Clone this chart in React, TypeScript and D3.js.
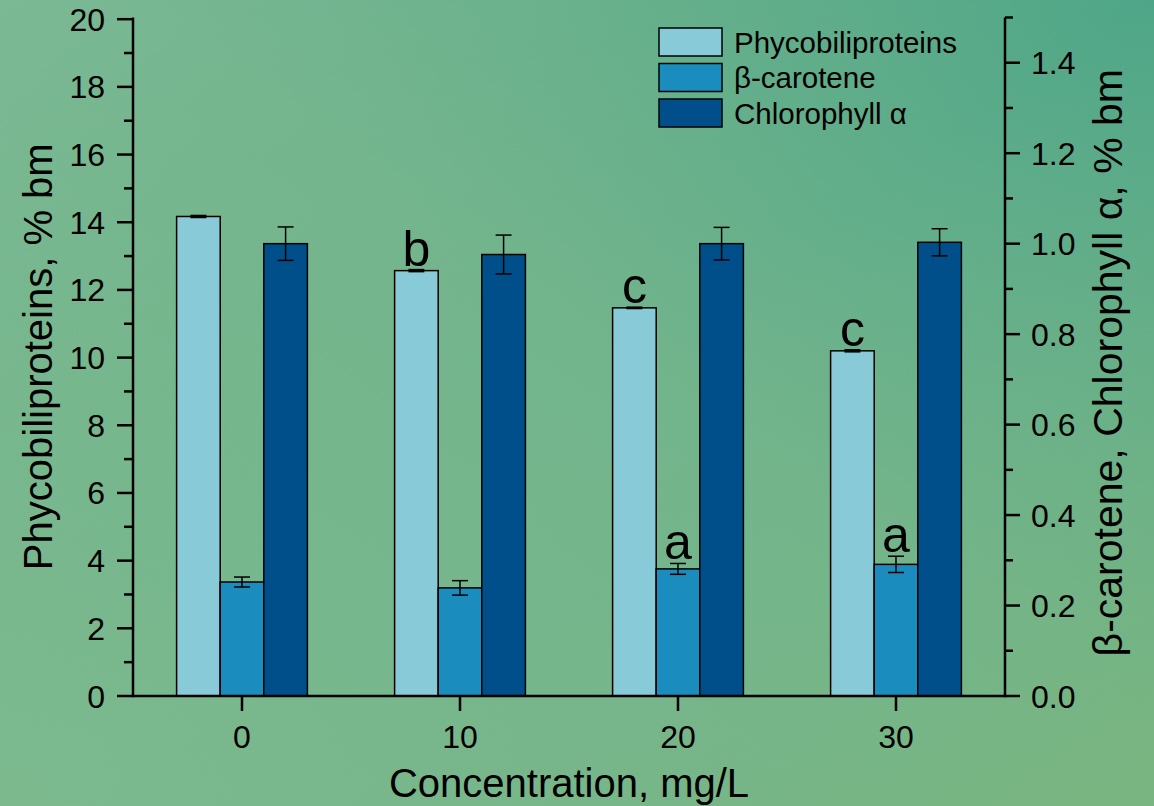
import React from "react";
import * as d3 from "d3";

const categories = ["0", "10", "20", "30"];
const phyco = [14.17, 12.57, 11.47, 10.2];
const phycoErr = [0.03, 0.03, 0.02, 0.03];
const beta = [0.252, 0.239, 0.281, 0.291];
const betaErr = [0.011, 0.016, 0.012, 0.018];
const chl = [1.0, 0.976, 1.0, 1.003];
const chlErr = [0.037, 0.043, 0.036, 0.03];
const phycoLetters = ["", "b", "c", "c"];
const betaLetters = ["", "", "a", "a"];
const leftTicks = [0, 2, 4, 6, 8, 10, 12, 14, 16, 18, 20];
const leftMinor = d3.range(1, 20, 2);
const rightTicks = [0, 0.2, 0.4, 0.6, 0.8, 1.0, 1.2, 1.4];
const rightMinor = [0.1, 0.3, 0.5, 0.7, 0.9, 1.1, 1.3, 1.5];
const seriesNames = ["Phycobiliproteins", "β-carotene", "Chlorophyll α"];
const colors = ["#88cad8", "#1a8cbe", "#004f8a"];

const W = 1154, H = 806;
const L = 133, R = 1005, T = 17.5, B = 696;
const font = "'Liberation Sans', Arial, sans-serif";

export default function App() {
  const x = d3.scaleBand<string>().domain(categories).range([L, R]).padding(0);
  const yL = d3.scaleLinear().domain([0, 20.05]).range([B, T]);
  const yR = d3.scaleLinear().domain([0, 1.5]).range([B, T]);
  const bw = x.bandwidth() * 0.2;

  const series = [
    { vals: phyco, errs: phycoErr, scale: yL, letters: phycoLetters },
    { vals: beta, errs: betaErr, scale: yR, letters: betaLetters },
    { vals: chl, errs: chlErr, scale: yR, letters: null as string[] | null },
  ];

  return (
    <svg width={W} height={H} style={{ position: "absolute", left: 0, top: 0 }} fontFamily={font}>
      <defs>
        <linearGradient id="bg" x1="1" y1="0" x2="0" y2="1">
          <stop offset="0" stopColor="#4ea688" />
          <stop offset="0.45" stopColor="#72b48c" />
          <stop offset="1" stopColor="#7cba8e" />
        </linearGradient>
        <linearGradient id="bg2" x1="0" y1="0" x2="1" y2="1">
          <stop offset="0" stopColor="#7ebb98" stopOpacity="0.6" />
          <stop offset="0.5" stopColor="#74b48a" stopOpacity="0" />
          <stop offset="1" stopColor="#7bb57a" stopOpacity="0.7" />
        </linearGradient>
      </defs>
      <rect width={W} height={H} fill="url(#bg)" />
      <rect width={W} height={H} fill="url(#bg2)" />

      {series.map((s, si) =>
        categories.map((c, i) => {
          const cx = (x(c) as number) + x.bandwidth() / 2;
          const x0 = cx + (si - 1.5) * bw;
          const yv = s.scale(s.vals[i]);
          const yt = s.scale(s.vals[i] + s.errs[i]);
          const yb = s.scale(s.vals[i] - s.errs[i]);
          const mx = x0 + bw / 2;
          return (
            <g key={`${si}-${i}`}>
              <rect x={x0} y={yv} width={bw} height={B - yv} fill={colors[si]} stroke="#000" strokeWidth={1.5} />
              <line x1={mx} x2={mx} y1={yt} y2={yb} stroke="#000" strokeWidth={1.5} />
              <line x1={mx - 8} x2={mx + 8} y1={yt} y2={yt} stroke="#000" strokeWidth={1.5} />
              <line x1={mx - 8} x2={mx + 8} y1={yb} y2={yb} stroke="#000" strokeWidth={1.5} />
              {s.letters && s.letters[i] ? (
                <text x={mx} y={yt - 4} textAnchor="middle" fontSize={50} fill="#000">{s.letters[i]}</text>
              ) : null}
            </g>
          );
        })
      )}

      {/* axes */}
      <g stroke="#000" strokeWidth={2.5} fill="none">
        <line x1={L} x2={L} y1={T} y2={B + 1.25} />
        <line x1={R} x2={R} y1={T} y2={B + 1.25} />
        <line x1={L} x2={R} y1={B} y2={B} />
        {leftTicks.map((t) => (
          <line key={`lt${t}`} x1={L - 16} x2={L} y1={yL(t)} y2={yL(t)} />
        ))}
        {leftMinor.map((t) => (
          <line key={`lm${t}`} x1={L - 9} x2={L} y1={yL(t)} y2={yL(t)} />
        ))}
        {rightTicks.map((t) => (
          <line key={`rt${t}`} x1={R} x2={R + 15} y1={yR(t)} y2={yR(t)} />
        ))}
        {rightMinor.map((t) => (
          <line key={`rm${t}`} x1={R} x2={R + 8} y1={yR(t)} y2={yR(t)} />
        ))}
        {categories.map((c) => {
          const cx = (x(c) as number) + x.bandwidth() / 2;
          return <line key={`xt${c}`} x1={cx} x2={cx} y1={B} y2={B + 15} />;
        })}
      </g>

      <g fontSize={32} fill="#000">
        {leftTicks.map((t) => (
          <text key={`ll${t}`} x={L - 28} y={yL(t)} dy="0.36em" textAnchor="end">{t}</text>
        ))}
        {rightTicks.map((t) => (
          <text key={`rl${t}`} x={R + 26} y={yR(t)} dy="0.36em" textAnchor="start">{t.toFixed(1)}</text>
        ))}
        {categories.map((c) => {
          const cx = (x(c) as number) + x.bandwidth() / 2;
          return <text key={`xl${c}`} x={cx} y={B + 52} textAnchor="middle">{c}</text>;
        })}
      </g>

      <text x={(L + R) / 2} y={797} textAnchor="middle" fontSize={40} fill="#000">Concentration, mg/L</text>
      <text transform={`translate(52, ${(T + B) / 2}) rotate(-90)`} textAnchor="middle" fontSize={40} fill="#000">Phycobiliproteins, % bm</text>
      <text transform={`translate(1122, ${(T + B) / 2 + 6}) rotate(-90)`} textAnchor="middle" fontSize={41} fill="#000">β-carotene, Chlorophyll α, % bm</text>

      <g>
        {seriesNames.map((n, i) => (
          <g key={n} transform={`translate(659, ${28 + i * 35.5})`}>
            <rect x={0} y={0} width={63} height={28} fill={colors[i]} stroke="#000" strokeWidth={1.5} />
            <text x={75} y={14} dy="0.36em" fontSize={29.5} fill="#000">{n}</text>
          </g>
        ))}
      </g>
    </svg>
  );
}
